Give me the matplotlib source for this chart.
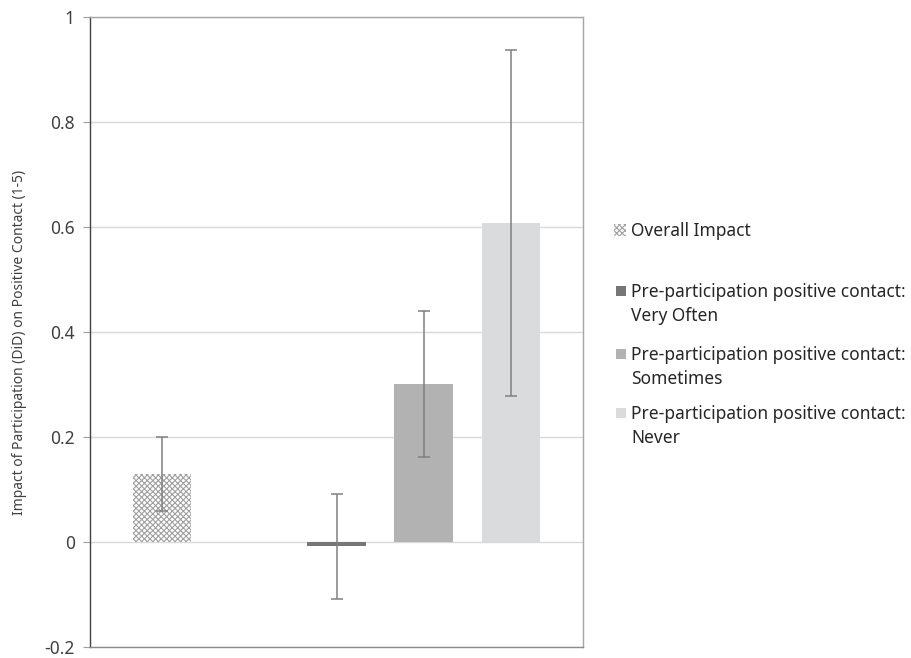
import matplotlib
matplotlib.use("Agg")
import matplotlib.pyplot as plt
from matplotlib.patches import Rectangle

plt.rcParams['font.family'] = ['Noto Sans', 'DejaVu Sans']
plt.rcParams['hatch.linewidth'] = 0.8

# data
positions = [0, 2, 3, 4]
impacts = [0.13, -0.008, 0.301, 0.608]
errors = [0.07, 0.10, 0.139, 0.33]
colors = ['white', '#767676', '#b2b2b2', '#dadbdc']
hatches = ['xxxxxx', None, None, None]
labels = ['Overall Impact',
          'Pre-participation positive contact:\nVery Often',
          'Pre-participation positive contact:\nSometimes',
          'Pre-participation positive contact:\nNever']
yticks = [-0.2, 0, 0.2, 0.4, 0.6, 0.8, 1]
ytick_labels = ['-0.2', '0', '0.2', '0.4', '0.6', '0.8', '1']

fig = plt.figure(figsize=(9.12, 6.58), dpi=100)
ax = fig.add_axes([90 / 912, 11 / 658, 493 / 912, 630 / 658])

for x, v, e, c, h in zip(positions, impacts, errors, colors, hatches):
    ax.bar(x, v, width=0.67, color=c, hatch=h, edgecolor='#a0a0a0' if h else c,
           linewidth=0, zorder=2)
    ax.errorbar(x, v, yerr=e, fmt='none', ecolor='#808080', elinewidth=1.1,
                capsize=4.5, capthick=1.1, zorder=3)

ax.set_xlim(-0.83, 4.83)
ax.set_ylim(-0.2, 1)
ax.set_yticks(yticks)
ax.set_yticklabels(ytick_labels)
ax.set_xticks([])
ax.yaxis.grid(True, color='#d9d9d9', linewidth=1, zorder=0)
ax.set_axisbelow(True)
ax.tick_params(axis='y', length=5, width=0.8, color='#a0a0a0', labelsize=12.5,
               labelcolor='#404040', pad=6)

ax.spines['left'].set_color('#404040')
ax.spines['bottom'].set_color('#8c8c8c')
ax.spines['right'].set_color('#a6a6a6')
ax.spines['top'].set_color('#a6a6a6')
for s in ax.spines.values():
    s.set_linewidth(1)

ax.set_ylabel('Impact of Participation (DiD) on Positive Contact (1-5)',
              fontsize=10, color='#404040')
ax.yaxis.set_label_coords(-0.127, 0.483)

# legend drawn by hand so each square sits beside the first text line
W, H = 912, 658
leg_rows = [230, 291, 354, 413]
for lab, y, c, h in zip(labels, leg_rows, colors, hatches):
    size = 12 if h else 10
    fig.patches.append(Rectangle(((626 - size) / W, 1 - (y + size / 2) / H),
                                 size / W, size / H, transform=fig.transFigure,
                                 facecolor=c, hatch=h, edgecolor='#a0a0a0' if h else c,
                                 linewidth=0))
    fig.text(631 / W, 1 - (y - 8) / H, lab, fontsize=12.5, color='#262626',
             va='top', ha='left', linespacing=1.4)

fig.savefig('out.png', dpi=100)
